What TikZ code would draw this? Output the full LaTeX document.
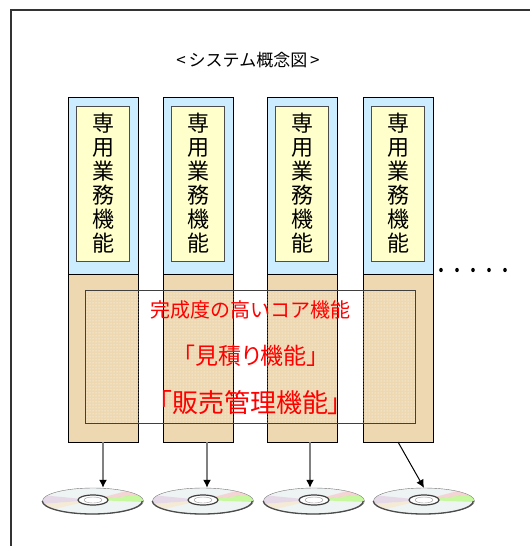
\documentclass[tikz,border=0pt]{standalone}
\usepackage{fontspec}
\setmainfont{Noto Sans CJK JP}
\newfontfamily\propfont[RawFeature=+palt]{Noto Sans CJK JP}
\usetikzlibrary{positioning,shapes.geometric,arrows.meta,patterns}

\definecolor{paleblue}{RGB}{204,236,255}
\definecolor{cream}{RGB}{255,255,204}
\definecolor{parchment}{RGB}{237,216,178}
\definecolor{discface}{RGB}{238,243,243}
\definecolor{corered}{RGB}{255,0,0}

\begin{document}
\begin{tikzpicture}[x=1pt,y=-1pt,
  topbox/.style={draw,fill=paleblue,minimum width=70pt,minimum height=177pt,inner sep=0pt,outer sep=0pt},
  funcbox/.style={draw=black!70,fill=cream,minimum width=53pt,minimum height=155pt,inner sep=0pt,outer sep=0pt,
    align=center,font=\fontsize{22}{24}\selectfont},
  basebox/.style={draw,fill=parchment,minimum width=70pt,minimum height=168pt,inner sep=0pt,outer sep=0pt},
  corebox/.style={draw=black!75,pattern=dots,pattern color=white,minimum width=330pt,minimum height=133pt,inner sep=0pt},
  coretext/.style={text=corered,inner sep=0pt},
  disc/.style={ellipse,draw=black!55,fill=discface,minimum width=101pt,minimum height=26pt,inner sep=0pt},
  toline/.style={draw=black!50,line width=1.5pt,-{Latex[black,length=8pt,width=8pt]}}]
\useasboundingbox (0,0) rectangle (530,546);
\draw[black!80,line width=1.5pt] (530,10) -- (11,10) -- (11,546);

\node[font=\fontsize{17}{17}\selectfont] (title) at (248,60) {<\hspace{3pt}システム概念図\hspace{3pt}>};

% four columns: own functions on top, shared base below
\foreach \i/\x in {1/103,2/198,3/302,4/398}{
  \node[topbox,anchor=north] (top\i) at (\x,97) {};
  \node[funcbox,below=9pt of top\i.north,anchor=north] (func\i) {専\\用\\業\\務\\機\\能};
  \node[basebox,below=0pt of top\i] (base\i) {};
}

\foreach \x in {441,457,...,505}
  \fill (\x,270) ellipse [x radius=1.8, y radius=2.2];

% core functions laid over the bases
\node[corebox] (core) at (250,356.5) {};
\node[coretext,font=\fontsize{20}{20}\selectfont] (core1) at (250,310) {完成度の高いコア機能};
\node[coretext,font=\propfont\fontsize{23}{23}\selectfont] (core2) at (251,356) {「見積り機能」};
\node[coretext,font=\propfont\fontsize{26}{26}\selectfont] (core3) at (250,403) {「販売管理機能」};

% discs
\foreach \i/\x in {1/93,2/203,3/314,4/424}{
  \node[disc] (disc\i) at (\x,501) {};
  \begin{scope}
    \clip (\x,501) ellipse [x radius=50, y radius=13];
    \fill[red!35,opacity=.4] (\x,500) -- ({\x+52},486) -- ({\x+52},494) -- cycle;
    \fill[green!50!yellow,opacity=.35] (\x,500) -- ({\x+52},494) -- ({\x+52},502) -- cycle;
    \fill[violet!30,opacity=.4] (\x,500) -- ({\x-52},495) -- ({\x-52},504) -- cycle;
    \fill[yellow!60!red!30,opacity=.4] (\x,500) -- ({\x-52},504) -- ({\x-52},512) -- cycle;
  \end{scope}
  \draw[black!75,line width=1.2pt,fill=white] (\x,500) ellipse [x radius=15, y radius=5];
  \draw[black!40] (\x,500) ellipse [x radius=9, y radius=3];
  \draw[black!70,line width=1.3pt] (disc\i.west) arc [start angle=180,end angle=0,x radius=50,y radius=13];
}

\foreach \i/\s in {1/0,2/9,3/8}
  \draw[toline] ([xshift=\s pt]base\i.south) -- ([xshift=\s pt]base\i.south |- disc\i.north);
\draw[toline,draw=black,line width=1pt] (base4.south) -- (disc4.north);
\end{tikzpicture}
\end{document}
